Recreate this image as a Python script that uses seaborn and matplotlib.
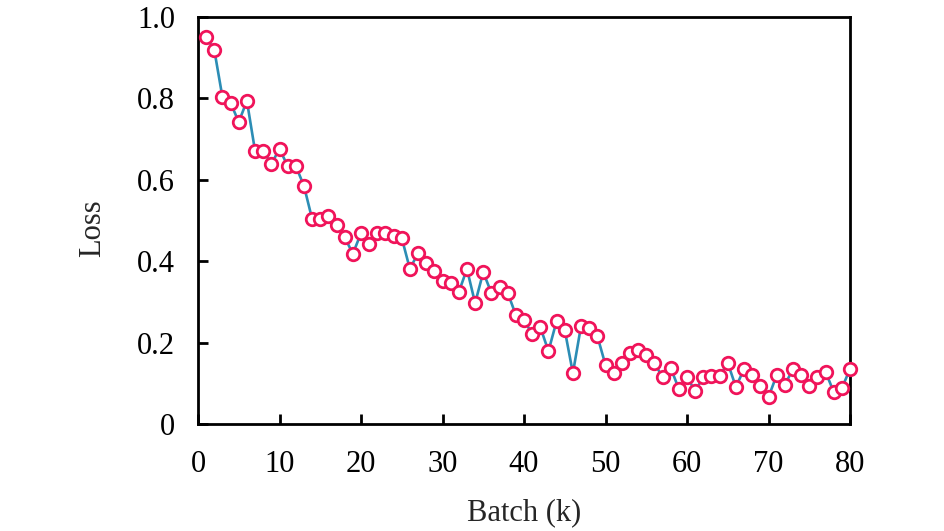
import numpy as np
import pandas as pd
import seaborn as sns
import matplotlib
matplotlib.use("Agg")
import matplotlib.pyplot as plt

batch = list(range(1, 81))
loss = [0.951, 0.919, 0.803, 0.789, 0.742, 0.794, 0.671, 0.671, 0.639, 0.676,
        0.634, 0.634, 0.585, 0.504, 0.504, 0.511, 0.489, 0.459, 0.418, 0.469,
        0.442, 0.469, 0.469, 0.462, 0.457, 0.381, 0.420, 0.396, 0.376, 0.351,
        0.346, 0.324, 0.381, 0.297, 0.373, 0.322, 0.337, 0.322, 0.268, 0.256,
        0.221, 0.238, 0.179, 0.253, 0.231, 0.125, 0.241, 0.236, 0.216, 0.145,
        0.125, 0.150, 0.174, 0.182, 0.170, 0.150, 0.115, 0.138, 0.086, 0.115,
        0.081, 0.115, 0.118, 0.118, 0.150, 0.091, 0.135, 0.120, 0.093, 0.066,
        0.120, 0.096, 0.135, 0.120, 0.093, 0.115, 0.128, 0.079, 0.088, 0.135]
xticks = [0, 10, 20, 30, 40, 50, 60, 70, 80]
yticks = [0, 0.2, 0.4, 0.6, 0.8, 1.0]
ytick_labels = ["0", "0.2", "0.4", "0.6", "0.8", "1.0"]

df = pd.DataFrame({"Batch": batch, "Loss": loss})

sns.set_theme(style="white")
plt.rcParams["font.family"] = ["Liberation Serif", "DejaVu Serif"]

fig = plt.figure(figsize=(9.45, 5.31), dpi=100)
ax = fig.add_axes([198 / 945, 1 - 424 / 531, (850 - 198) / 945, (424 - 17) / 531])

sns.lineplot(data=df, x="Batch", y="Loss", ax=ax, color="#2c8db5", linewidth=1.9,
             marker="o", markersize=9, markerfacecolor="white",
             markeredgecolor="#f0145a", markeredgewidth=2.0, clip_on=False, zorder=3)

ax.set_xlim(0, 80)
ax.set_ylim(0, 1.0)
ax.set_xticks(xticks)
ax.set_xticklabels([str(t) for t in xticks])
ax.set_yticks(yticks)
ax.set_yticklabels(ytick_labels)
ax.tick_params(axis="both", direction="in", length=7, width=2, labelsize=22,
               colors="black", top=False, right=False, bottom=True, left=True)
ax.tick_params(axis="x", pad=18.5)
ax.tick_params(axis="y", pad=16.5)
for s in ax.spines.values():
    s.set_visible(True)
    s.set_linewidth(2)
    s.set_color("black")
ax.set_xlabel("Batch (k)", fontsize=22, labelpad=14)
ax.set_ylabel("Loss", fontsize=22, labelpad=18)
ax.yaxis.set_label_coords(-0.139, 0.48)
ax.grid(False)

fig.savefig("out.png", dpi=100)
